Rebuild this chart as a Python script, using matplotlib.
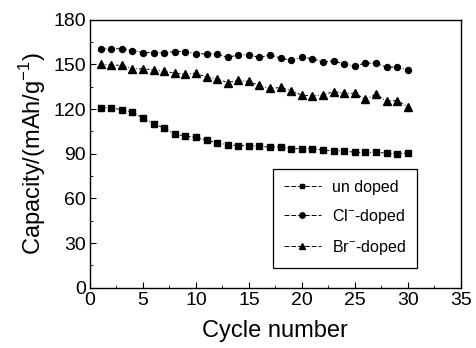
import numpy as np
import matplotlib
matplotlib.use("Agg")
import matplotlib.pyplot as plt
from matplotlib.ticker import MultipleLocator

plt.rcParams['font.family'] = ['Liberation Sans', 'DejaVu Sans']
plt.rcParams['mathtext.fontset'] = 'custom'
plt.rcParams['mathtext.rm'] = 'Liberation Sans'

# Dados
ciclos = np.arange(1, 31)
sem_dopagem = [121, 121, 119.5, 118, 114, 110, 107.5, 103, 102, 101, 99, 97.5,
               96, 95.5, 95.5, 95, 94.5, 94.5, 93.5, 93.5, 93.5, 92.5, 92, 92,
               91, 91, 91, 90.5, 90, 90.5]
dopado_cl = [160.3, 160.7, 160.5, 159.4, 158.0, 158.0, 157.8, 158.7, 158.7, 157.2,
             157.2, 157.2, 154.7, 156.5, 156.5, 154.7, 156.5, 154.3, 152.9, 154.7,
             154.0, 151.6, 152.4, 150.2, 149.1, 150.9, 150.9, 148.2, 148.2, 146.4]
dopado_br = [150.4, 149.5, 149.5, 147.1, 147.1, 146.4, 145.5, 144.2, 143.5, 144.2,
             141.5, 140.2, 137.9, 139.3, 138.6, 135.9, 133.9, 134.6, 132.5, 129.4,
             128.9, 129.6, 131.8, 130.7, 130.7, 126.7, 130.0, 125.4, 125.8, 121.7]
rotulos = ["un doped", "Cl$^{-}$-doped", "Br$^{-}$-doped"]

fig = plt.figure(figsize=(4.76, 3.48), dpi=100)
ax = fig.add_axes([0.189, 0.173, 0.779, 0.77])

estilo = dict(color="black", lw=0.7, linestyle=(0, (3, 2, 1, 2)))
ax.plot(ciclos, sem_dopagem, marker="s", markersize=3.8, label=rotulos[0], **estilo)
ax.plot(ciclos, dopado_cl, marker="o", markersize=4.3, label=rotulos[1], **estilo)
ax.plot(ciclos, dopado_br, marker="^", markersize=5.3, label=rotulos[2], **estilo)

ax.set_xlim(0, 35)
ax.set_ylim(0, 180)
ax.xaxis.set_major_locator(MultipleLocator(5))
ax.xaxis.set_minor_locator(MultipleLocator(2.5))
ax.yaxis.set_major_locator(MultipleLocator(30))
ax.yaxis.set_minor_locator(MultipleLocator(15))
ax.tick_params(which="both", direction="in", labelsize=14)
ax.tick_params(which="major", length=4, pad=3)
ax.tick_params(which="minor", length=2.5)
for s in ax.spines.values():
    s.set_linewidth(1.0)

ax.set_xlabel("Cycle number", fontsize=17, labelpad=8)
ax.set_ylabel("Capacity/(mAh/g$^{-1}$)", fontsize=17, labelpad=4)

leg = ax.legend(loc="lower left", bbox_to_anchor=(0.493, 0.074), borderaxespad=0,
                fancybox=False, edgecolor="black", framealpha=1, fontsize=11.5,
                handlelength=2.3, handletextpad=0.7, labelspacing=0.75,
                borderpad=0.7, markerscale=0.9)
leg.get_frame().set_linewidth(0.9)
for h in leg.get_lines():
    h.set_linestyle((0, (5, 2)))

fig.savefig("out.png", dpi=100)
